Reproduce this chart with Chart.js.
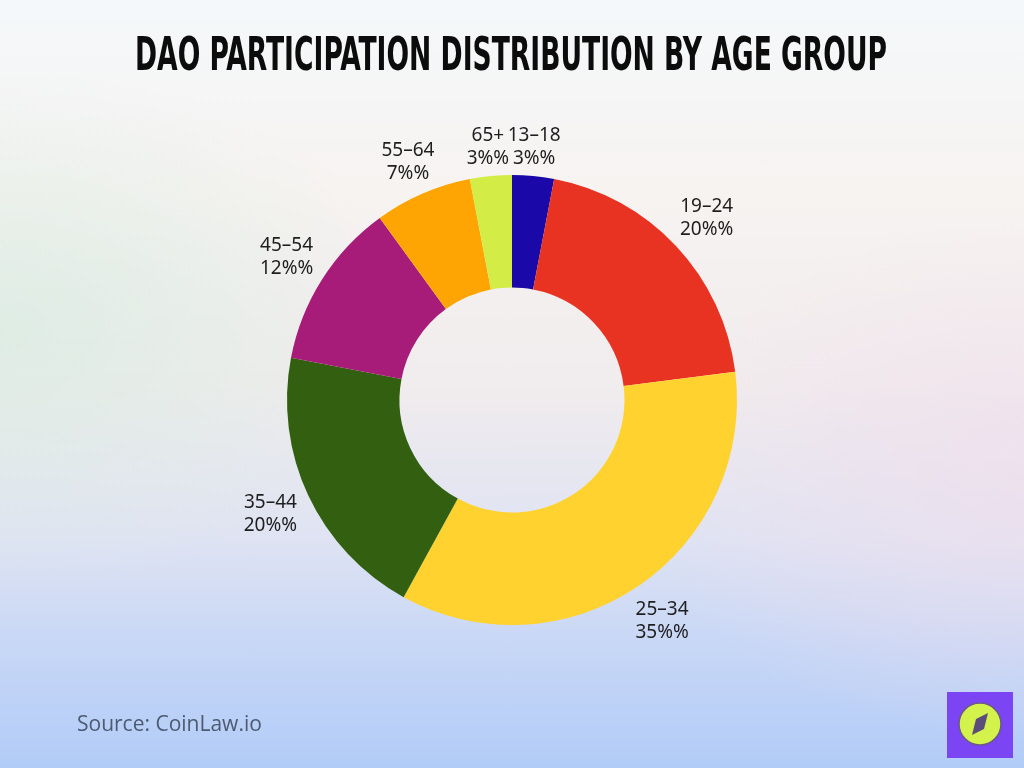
<!DOCTYPE html>
<html>
<head>
<meta charset="utf-8">
<script src="https://cdn.jsdelivr.net/npm/chart.js@4.4.1/dist/chart.umd.min.js"></script>
<style>
  html, body { margin: 0; padding: 0; }
  body {
    width: 1024px; height: 768px; overflow: hidden; position: relative;
    background:
      radial-gradient(ellipse 420px 260px at 0px 330px, rgba(215,236,225,0.75), rgba(215,236,225,0) 100%),
      radial-gradient(ellipse 380px 260px at 1024px 480px, rgba(240,222,236,0.7), rgba(240,222,236,0) 100%),
      linear-gradient(to bottom, #f4f8fa 0%, #f7f3f1 25%, #f1eced 50%, #dfe3f3 70%, #c6d6f6 85%, #b2ccf8 100%);
  }
  #wrap { position: absolute; left: 0; top: 0; width: 1024px; height: 768px; }
  #source {
    position: absolute; left: 77px; top: 709px;
    font-family: "Open Sans", "Noto Sans", sans-serif; font-size: 21px; color: #4c5b72;
  }
  #logo { position: absolute; left: 947px; top: 692px; }
</style>
</head>
<body>
<div id="wrap"><canvas id="donutCanvas" width="1024" height="768"></canvas></div>
<div id="source">Source: CoinLaw.io</div>
<svg id="logo" width="66" height="66" viewBox="0 0 66 66">
  <rect x="0" y="0" width="66" height="66" fill="#7b45f4"/>
  <circle cx="33" cy="32" r="21" fill="#d4f24c" stroke="#6a5a8a" stroke-width="1.5"/>
  <path d="M41 21 L37 37 L25 43 L29 27 Z" fill="#5b4c7a"/>
</svg>
<script>
// data
var ageGroups = ['13–18', '19–24', '25–34', '35–44', '45–54', '55–64', '65+'];
var shares = [3, 20, 35, 20, 12, 7, 3];
var sliceColors = ['#1a08a8', '#e83222', '#ffd22f', '#326010', '#a71c78', '#ffa503', '#d3ec46'];

var titleText = 'DAO Participation Distribution by Age Group';

// small nudges so the two thin top slices keep their labels apart
var labelNudge = [[-3, 12], [0, 0], [0, 0], [0, 0], [0, 0], [2, 7], [1, 12]];

var titlePlugin = {
  id: 'bigTitle',
  afterDraw: function (chart) {
    var ctx = chart.ctx;
    ctx.save();
    ctx.font = 'bold 47px "Liberation Sans Narrow", "DejaVu Sans Condensed", sans-serif';
    ctx.fillStyle = '#0c0c0c';
    ctx.textBaseline = 'alphabetic';
    var txt = titleText.toUpperCase();
    var w = ctx.measureText(txt).width;
    var targetW = 752;
    ctx.translate(135, 70);
    ctx.scale(targetW / w, 1);
    ctx.fillText(txt, 0, 0);
    ctx.restore();
  }
};

var outsideLabels = {
  id: 'outsideLabels',
  afterDatasetsDraw: function (chart) {
    var ctx = chart.ctx;
    var meta = chart.getDatasetMeta(0);
    ctx.save();
    ctx.font = '19px "Noto Sans", sans-serif';
    ctx.fillStyle = '#1e1e1e';
    ctx.textAlign = 'center';
    ctx.textBaseline = 'middle';
    meta.data.forEach(function (arc, i) {
      var p = arc.getProps(['startAngle', 'endAngle', 'outerRadius', 'x', 'y'], true);
      var mid = (p.startAngle + p.endAngle) / 2;
      var r = p.outerRadius + 42;
      var x = p.x + Math.cos(mid) * r + labelNudge[i][0];
      var y = p.y + Math.sin(mid) * r + labelNudge[i][1];
      ctx.fillText(ageGroups[i], x, y - 11);
      ctx.fillText(shares[i] + '%%', x, y + 12);
    });
    ctx.restore();
  }
};

var ctx = document.getElementById('donutCanvas').getContext('2d');
var donutChart = new Chart(ctx, {
  type: 'doughnut',
  data: {
    labels: ageGroups,
    datasets: [{
      data: shares,
      backgroundColor: sliceColors,
      borderWidth: 0
    }]
  },
  options: {
    responsive: false,
    animation: false,
    cutout: '50%',
    layout: { padding: { top: 175, bottom: 143, left: 0, right: 0 } },
    plugins: {
      legend: { display: false },
      tooltip: { enabled: false }
    }
  },
  plugins: [titlePlugin, outsideLabels]
});
</script>
</body>
</html>
